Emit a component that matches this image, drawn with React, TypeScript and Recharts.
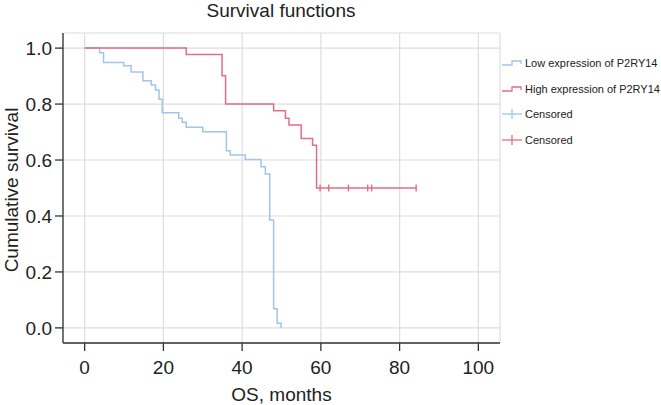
import React from "react"
import {
  ComposedChart,
  Line,
  Scatter,
  XAxis,
  YAxis,
  CartesianGrid,
  Label,
} from "recharts"

// survival curves (months, cumulative survival)
const lowTimes = [0, 3.8, 4.8, 9.9, 11.8, 14.8, 16.9, 18.0, 18.9, 19.7, 23.9, 24.8, 25.8, 30.0, 36.0, 37.0, 40.8, 44.8, 45.9, 47.0, 48.0, 48.9, 49.9]
const lowSurv = [1.0, 0.983, 0.949, 0.937, 0.915, 0.883, 0.868, 0.85, 0.817, 0.769, 0.749, 0.735, 0.717, 0.701, 0.633, 0.618, 0.602, 0.576, 0.55, 0.386, 0.068, 0.017, 0.0]

const highTimes = [0, 25.8, 34.9, 35.8, 48.0, 51.0, 51.9, 55.0, 57.9, 58.9, 84.2]
const highSurv = [1.0, 0.977, 0.901, 0.8, 0.776, 0.749, 0.725, 0.677, 0.653, 0.5, 0.5]

const highCensorTimes = [59.8, 62.0, 67.0, 71.9, 72.9, 84.2]
const highCensorSurv = [0.5, 0.5, 0.5, 0.5, 0.5, 0.5]

const xTicks = [0, 20, 40, 60, 80, 100]
const yTicks = [0, 0.2, 0.4, 0.6, 0.8, 1.0]

const legendLabels = [
  "Low expression of P2RY14",
  "High expression of P2RY14",
  "Censored",
  "Censored",
]

const BLUE = "#a3c4ea"
const RED = "#e26e84"
const FONT = "'Liberation Sans', Arial, sans-serif"

const lowData = lowTimes.map((t, i) => ({ t, s: lowSurv[i] }))
const highData = highTimes.map((t, i) => ({ t, s: highSurv[i] }))
const censorData = highCensorTimes.map((t, i) => ({ t, s: highCensorSurv[i] }))

const CensorMark = (props: any) => {
  const { cx, cy } = props
  return (
    <line x1={cx} x2={cx} y1={cy - 3.5} y2={cy + 3.5} stroke={RED} strokeWidth={1.4} />
  )
}

const LegendIcon = ({ kind, color }: { kind: string; color: string }) => {
  if (kind === "step") {
    return (
      <svg width={22} height={12} style={{ display: "block" }}>
        <polyline points="1,8 11,8 11,4 20,4 20,7" fill="none" stroke={color} strokeWidth={1.3} />
      </svg>
    )
  }
  return (
    <svg width={22} height={12} style={{ display: "block" }}>
      <line x1={1} x2={21} y1={6} y2={6} stroke={color} strokeWidth={1.3} />
      <line x1={11} x2={11} y1={1} y2={11} stroke={color} strokeWidth={1.3} />
    </svg>
  )
}

const YLabel = (props: any) => {
  const { viewBox } = props
  const cx = viewBox.x + 11
  const cy = viewBox.y + viewBox.height / 2 + 2
  return (
    <text
      x={cx}
      y={cy}
      transform={`rotate(-90, ${cx}, ${cy})`}
      textAnchor="middle"
      dominantBaseline="central"
      fontSize={19}
      fontFamily={FONT}
      fill="#222"
    >
      Cumulative survival
    </text>
  )
}

export default function App() {
  const kinds = ["step", "step", "cross", "cross"]
  const colors = [BLUE, RED, BLUE, RED]
  return (
    <div style={{ position: "fixed", left: 0, top: 0, width: 661, height: 405, background: "#fff", fontFamily: FONT }}>
      <div
        style={{
          position: "absolute",
          left: 131,
          top: 1,
          width: 300,
          textAlign: "center",
          fontSize: 19,
          lineHeight: "20px",
          color: "#222",
        }}
      >
        Survival functions
      </div>
      <ComposedChart
        width={661}
        height={405}
        margin={{ top: 33, right: 161, bottom: 0, left: 0 }}
      >
        <CartesianGrid stroke="#dedede" strokeWidth={1.2} />
        <XAxis
          type="number"
          dataKey="t"
          domain={[-5.5, 105.5]}
          ticks={xTicks}
          allowDataOverflow
          height={62}
          tickSize={8}
          tickMargin={10}
          stroke="#333"
          strokeWidth={1.3}
          tick={{ fontSize: 19, fill: "#222", fontFamily: FONT }}
        >
          <Label
            value="OS, months"
            position="insideBottom"
            offset={4}
            style={{ fontSize: 19, fill: "#222", fontFamily: FONT }}
          />
        </XAxis>
        <YAxis
          type="number"
          dataKey="s"
          domain={[-0.054, 1.054]}
          ticks={yTicks}
          allowDataOverflow
          width={63}
          tickSize={8}
          tickMargin={3}
          stroke="#333"
          strokeWidth={1.3}
          tickFormatter={(v: number) => v.toFixed(1)}
          tick={{ fontSize: 19, fill: "#222", fontFamily: FONT }}
        >
          <Label content={<YLabel />} />
        </YAxis>
        <Line
          data={lowData}
          dataKey="s"
          type="stepAfter"
          stroke={BLUE}
          strokeWidth={1.5}
          dot={false}
          activeDot={false}
          isAnimationActive={false}
        />
        <Line
          data={highData}
          dataKey="s"
          type="stepAfter"
          stroke={RED}
          strokeWidth={1.5}
          dot={false}
          activeDot={false}
          isAnimationActive={false}
        />
        <Scatter
          data={censorData}
          dataKey="s"
          shape={<CensorMark />}
          isAnimationActive={false}
        />
      </ComposedChart>
      <div style={{ position: "absolute", left: 501, top: 50 }}>
        {legendLabels.map((label, i) => (
          <div
            key={i}
            style={{ display: "flex", alignItems: "center", height: 25.7, fontSize: 11, color: "#222" }}
          >
            <LegendIcon kind={kinds[i]} color={colors[i]} />
            <span style={{ marginLeft: 2 }}>{label}</span>
          </div>
        ))}
      </div>
    </div>
  )
}
